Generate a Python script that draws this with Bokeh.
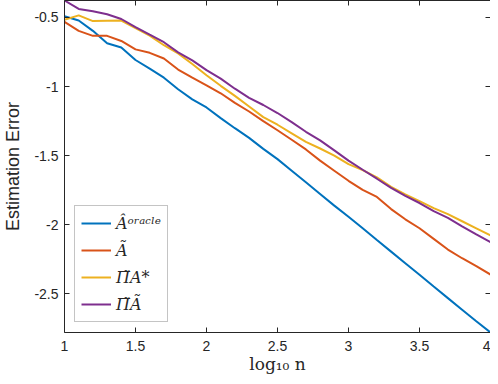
from bokeh.plotting import figure
from bokeh.models import Range1d, LinearAxis, FixedTicker, CustomJSTickFormatter, Legend, LegendItem
from bokeh.embed import file_html
from bokeh.resources import INLINE

log_n = [1.0, 1.1, 1.2, 1.3, 1.4, 1.5, 1.6, 1.7, 1.8, 1.9, 2.0,
         2.1, 2.2, 2.3, 2.4, 2.5, 2.6, 2.7, 2.8, 2.9, 3.0,
         3.1, 3.2, 3.3, 3.4, 3.5, 3.6, 3.7, 3.8, 3.9, 4.0]

err_oracle = [-0.491, -0.522, -0.597, -0.687, -0.718, -0.808, -0.870, -0.936, -1.020, -1.093, -1.152,
              -1.229, -1.302, -1.372, -1.452, -1.526, -1.610, -1.694, -1.778, -1.863, -1.943,
              -2.027, -2.112, -2.196, -2.280, -2.364, -2.449, -2.533, -2.617, -2.701, -2.782]

err_tilde = [-0.531, -0.597, -0.633, -0.633, -0.670, -0.731, -0.756, -0.797, -0.877, -0.936, -0.991,
             -1.049, -1.119, -1.181, -1.251, -1.317, -1.386, -1.456, -1.537, -1.610, -1.683,
             -1.749, -1.800, -1.888, -1.962, -2.027, -2.104, -2.181, -2.244, -2.302, -2.362]

err_pi_star = [-0.516, -0.485, -0.526, -0.524, -0.522, -0.577, -0.632, -0.701, -0.760, -0.837, -0.918,
               -0.995, -1.068, -1.145, -1.222, -1.277, -1.339, -1.401, -1.449, -1.500, -1.562,
               -1.606, -1.658, -1.727, -1.782, -1.830, -1.881, -1.925, -1.976, -2.027, -2.079]

err_pi_tilde = [-0.377, -0.438, -0.455, -0.477, -0.511, -0.570, -0.625, -0.679, -0.753, -0.811, -0.881,
                -0.943, -1.016, -1.082, -1.134, -1.192, -1.258, -1.328, -1.390, -1.463, -1.537,
                -1.603, -1.668, -1.734, -1.793, -1.844, -1.903, -1.951, -2.013, -2.072, -2.128]

labels = ["Âᵒʳᵃᶜˡᵉ", "Ã", "Π̃A*", "Π̃Ã"]
colors = ["#0072BD", "#D95319", "#EDB120", "#7E2F8E"]

x_ticks = [1, 1.5, 2, 2.5, 3, 3.5, 4]
y_ticks = [-2.5, -2, -1.5, -1, -0.5]

AX = "#262626"

p = figure(width=490, height=376, output_backend="svg", toolbar_location=None,
           x_range=Range1d(1, 4), y_range=Range1d(-2.782, -0.377),
           min_border_left=57, min_border_right=0, min_border_top=0, min_border_bottom=40,
           x_axis_label="log₁₀ n", y_axis_label="Estimation Error")
p.grid.visible = False
p.outline_line_color = None
p.background_fill_color = "white"

fmt = CustomJSTickFormatter(code="return tick.toString();")
blank = CustomJSTickFormatter(code="return '';")

def style_axis(ax):
    ax.axis_line_color = AX
    ax.major_tick_line_color = AX
    ax.minor_tick_line_color = None
    ax.major_tick_in = 5
    ax.major_tick_out = 0
    ax.major_label_text_font = "Liberation Sans"
    ax.major_label_text_color = AX
    ax.major_label_text_font_size = "14px"
    ax.axis_label_text_color = AX

p.xaxis.ticker = FixedTicker(ticks=x_ticks)
p.yaxis.ticker = FixedTicker(ticks=y_ticks)
p.xaxis.formatter = fmt
p.yaxis.formatter = fmt
style_axis(p.xaxis[0])
style_axis(p.yaxis[0])
p.xaxis.major_label_standoff = 8
p.yaxis.major_label_standoff = 6
p.xaxis.axis_label_text_font = "DejaVu Serif"
p.xaxis.axis_label_text_font_style = "normal"
p.xaxis.axis_label_text_font_size = "17px"
p.xaxis.axis_label_standoff = 0
p.yaxis.axis_label_text_font = "Liberation Sans"
p.yaxis.axis_label_text_font_style = "normal"
p.yaxis.axis_label_text_font_size = "18px"
p.yaxis.axis_label_standoff = 8

top = LinearAxis(ticker=FixedTicker(ticks=x_ticks), formatter=blank, major_label_standoff=0)
right = LinearAxis(ticker=FixedTicker(ticks=y_ticks), formatter=blank, major_label_standoff=0)
style_axis(top)
style_axis(right)
p.add_layout(top, "above")
p.add_layout(right, "right")

series = [err_oracle, err_tilde, err_pi_star, err_pi_tilde]
items = []
for ys, c, lab in zip(series, colors, labels):
    r = p.line(log_n, ys, line_color=c, line_width=2)
    items.append(LegendItem(label=lab, renderers=[r]))

legend = Legend(items=items, location="bottom_left")
legend.label_text_font = "DejaVu Serif"
legend.label_text_font_style = "italic"
legend.label_text_font_size = "16px"
legend.label_text_color = AX
legend.glyph_width = 30
legend.glyph_height = 22
legend.label_height = 22
legend.spacing = 5
legend.padding = 6
legend.margin = 10
legend.border_line_color = "#8a8a8a"
legend.border_line_width = 1
legend.background_fill_alpha = 1
p.add_layout(legend, "center")

open("out.html", "w").write(file_html(p, INLINE))
